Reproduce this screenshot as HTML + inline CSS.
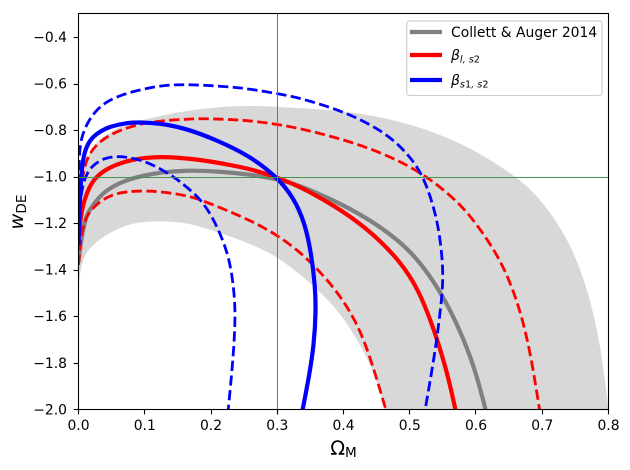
<!DOCTYPE html>
<html>
<head>
<meta charset="utf-8">
<title>Omega_M vs w_DE constraints</title>
<style>
html,body{margin:0;padding:0;background:#fff;}
svg{display:block;}
text{font-family:"DejaVu Sans",sans-serif;fill:#000;}
</style>
</head>
<body>
<svg id="chart" width="630" height="470" viewBox="0 0 630 470" xmlns="http://www.w3.org/2000/svg">
  <defs><clipPath id="plot-clip"><rect x="78.5" y="13.5" width="530" height="396"/></clipPath></defs>
  <g id="marks" clip-path="url(#plot-clip)"></g>
  <g id="axes"></g>
  <text x="343.5" y="455" text-anchor="middle" font-size="19.4">Ω<tspan font-size="13.6" dy="2">M</tspan></text>
  <text transform="translate(23,212) rotate(-90)" text-anchor="middle" font-size="19.4"><tspan font-style="italic">w</tspan><tspan font-size="13.6" dy="3">DE</tspan></text>
  <g>
    <rect x="406.7" y="20.9" width="195.4" height="74.6" rx="3" ry="3" fill="#fff" fill-opacity="0.8" stroke="#ccc" stroke-width="1.1"/>
    <line x1="410" x2="442" y1="32" y2="32" stroke="#808080" stroke-width="4.2"/>
    <text x="451" y="37" font-size="13.9">Collett &amp; Auger 2014</text>
    <line x1="410" x2="442" y1="55" y2="55" stroke="#ff0000" stroke-width="4.2"/>
    <text x="451" y="60" font-size="13.9" font-style="italic">β<tspan font-size="9.7" dy="2.5">l, s</tspan><tspan font-size="9.7" font-style="normal">2</tspan></text>
    <line x1="410" x2="442" y1="80" y2="80" stroke="#0000ff" stroke-width="4.2"/>
    <text x="451" y="85" font-size="13.9" font-style="italic">β<tspan font-size="9.7" dy="2.5">s</tspan><tspan font-size="9.7" font-style="normal">1</tspan><tspan font-size="9.7">, s</tspan><tspan font-size="9.7" font-style="normal">2</tspan></text>
  </g>
</svg>
<script>
var xTicks = [0.0, 0.1, 0.2, 0.3, 0.4, 0.5, 0.6, 0.7, 0.8];
var yTicks = [-0.4, -0.6, -0.8, -1.0, -1.2, -1.4, -1.6, -1.8, -2.0];
var xDomain = [0, 0.8];
var yDomain = [-2.0, -0.3];
var refOmega = 0.3;
var refW = -1.0;

var bandUpperX = [0, 0.0015, 0.0068, 0.0174, 0.0325, 0.0551, 0.0777, 0.0958, 0.1336, 0.1623, 0.2136, 0.2589, 0.3, 0.3595, 0.4098, 0.4596, 0.5105, 0.5608, 0.6106, 0.6614, 0.6865, 0.7117, 0.7369, 0.7505, 0.7671, 0.7872, 0.8];
var bandUpperY = [-1.315, -1.144, -0.972, -0.886, -0.838, -0.795, -0.77, -0.757, -0.733, -0.717, -0.7, -0.695, -0.7, -0.7095, -0.722, -0.746, -0.783, -0.836, -0.907, -1.003, -1.065, -1.151, -1.265, -1.35, -1.473, -1.702, -2.0];
var bandLowerX = [0, 0, 0.0012, 0.0048, 0.0105, 0.0189, 0.04, 0.0717, 0.0969, 0.122, 0.1623, 0.206, 0.2589, 0.3, 0.3343, 0.3595, 0.3846, 0.4072, 0.4325, 0.4501, 0.4626];
var bandLowerY = [-1.51, -1.495, -1.44, -1.375, -1.335, -1.3, -1.251, -1.208, -1.194, -1.191, -1.196, -1.234, -1.287, -1.344, -1.419, -1.483, -1.552, -1.638, -1.758, -1.874, -2.0];

var collettX = [0, 0.0038, 0.0113, 0.0163, 0.0314, 0.0465, 0.0717, 0.0969, 0.122, 0.1623, 0.2136, 0.2589, 0.3, 0.3343, 0.3846, 0.435, 0.4853, 0.5155, 0.5482, 0.5758, 0.5985, 0.6143];
var collettY = [-1.367, -1.272, -1.172, -1.144, -1.086, -1.05, -1.015, -0.996, -0.983, -0.972, -0.978, -0.991, -1.01, -1.038, -1.101, -1.176, -1.277, -1.367, -1.5015, -1.659, -1.825, -2.0];

var betaLS2X = [0, 0.0023, 0.0072, 0.0163, 0.0264, 0.0465, 0.0717, 0.1004, 0.1331, 0.1834, 0.2332, 0.2589, 0.3, 0.3343, 0.3846, 0.435, 0.4853, 0.5155, 0.5407, 0.5582, 0.5688];
var betaLS2Y = [-1.272, -1.195, -1.113, -1.043, -1.0, -0.96, -0.933, -0.918, -0.914, -0.9265, -0.952, -0.967, -1.003, -1.043, -1.122, -1.22, -1.36, -1.495, -1.69, -1.86, -2.0];
var betaLS2UpperX = [0, 0.003, 0.0083, 0.0163, 0.0314, 0.0516, 0.0717, 0.0918, 0.117, 0.1371, 0.1623, 0.1834, 0.2332, 0.2589, 0.3, 0.3343, 0.3846, 0.435, 0.4853, 0.5256, 0.5608, 0.586, 0.611, 0.6362, 0.6563, 0.6714, 0.6841, 0.6958];
var betaLS2UpperY = [-1.208, -1.058, -0.96, -0.9, -0.85, -0.814, -0.7925, -0.774, -0.764, -0.757, -0.754, -0.75, -0.755, -0.76, -0.775, -0.793, -0.829, -0.873, -0.933, -1.0, -1.079, -1.15, -1.244, -1.356, -1.487, -1.624, -1.788, -2.0];
var betaLS2LowerX = [0, 0.0023, 0.0063, 0.0139, 0.0314, 0.0516, 0.0717, 0.1019, 0.1321, 0.1623, 0.1834, 0.2332, 0.2638, 0.3, 0.3343, 0.3595, 0.3846, 0.4049, 0.425, 0.4427, 0.4638];
var betaLS2LowerY = [-1.38, -1.301, -1.215, -1.158, -1.108, -1.076, -1.065, -1.06, -1.0675, -1.081, -1.098, -1.156, -1.195, -1.251, -1.324, -1.394, -1.474, -1.556, -1.659, -1.797, -2.0];

var betaS1S2X = [0, 0.0012, 0.003, 0.0052, 0.0085, 0.0163, 0.0314, 0.0465, 0.0717, 0.0969, 0.122, 0.1623, 0.2086, 0.2589, 0.3, 0.3242, 0.3419, 0.3517, 0.357, 0.3585, 0.3555, 0.3475, 0.3384];
var betaS1S2Y = [-1.294, -1.144, -1.05, -0.959, -0.899, -0.843, -0.807, -0.786, -0.768, -0.767, -0.771, -0.7925, -0.843, -0.9115, -1.003, -1.088, -1.199, -1.337, -1.466, -1.573, -1.724, -1.867, -2.0];
var betaS1S2UpperX = [0, 0.0012, 0.0045, 0.0139, 0.029, 0.0465, 0.0691, 0.0918, 0.1144, 0.1371, 0.1573, 0.1834, 0.2332, 0.2589, 0.3, 0.3343, 0.3846, 0.4199, 0.4601, 0.4853, 0.5054, 0.5205, 0.5331, 0.5431, 0.5487, 0.5502, 0.5491, 0.5457, 0.5381, 0.5233];
var betaS1S2UpperY = [-1.036, -0.893, -0.83, -0.764, -0.7065, -0.671, -0.645, -0.628, -0.614, -0.606, -0.605, -0.606, -0.615, -0.624, -0.643, -0.662, -0.7065, -0.746, -0.808, -0.8685, -0.933, -1.003, -1.101, -1.212, -1.337, -1.423, -1.496, -1.59, -1.758, -2.0];
var betaS1S2LowerX = [0, 0.0023, 0.0088, 0.0214, 0.0389, 0.0592, 0.0818, 0.1045, 0.1271, 0.1472, 0.1612, 0.1834, 0.2015, 0.2181, 0.2287, 0.2347, 0.237, 0.234, 0.2261];
var betaS1S2LowerY = [-1.208, -1.101, -1.002, -0.95, -0.92, -0.9115, -0.92, -0.939, -0.972, -1.008, -1.04, -1.094, -1.169, -1.272, -1.367, -1.487, -1.595, -1.767, -2.0];

var SVGNS = 'http://www.w3.org/2000/svg';
function sx(v) { return 78.5 + (v - xDomain[0]) / (xDomain[1] - xDomain[0]) * 530; }
function sy(v) { return 409.3 - (v - yDomain[0]) / (yDomain[1] - yDomain[0]) * 395.6; }
function pts(xs, ys) {
  var out = [];
  for (var i = 0; i < xs.length; i++) out.push([sx(xs[i]), sy(ys[i])]);
  return out;
}
/* Clamped uniform cubic B-spline through the read points: evens out reading noise. */
function smooth(points, cont) {
  var n = points.length;
  var p = [points[0], points[0]].concat(points).concat([points[n - 1], points[n - 1]]);
  function f(v) { return v.toFixed(2); }
  var d = (cont ? 'L' : 'M') + f(points[0][0]) + ' ' + f(points[0][1]);
  for (var i = 1; i < p.length - 2; i++) {
    var b = p[i], c = p[i + 1], e = p[i + 2];
    d += 'C' + f((2 * b[0] + c[0]) / 3) + ' ' + f((2 * b[1] + c[1]) / 3) + ' ' +
      f((b[0] + 2 * c[0]) / 3) + ' ' + f((b[1] + 2 * c[1]) / 3) + ' ' +
      f((b[0] + 4 * c[0] + e[0]) / 6) + ' ' + f((b[1] + 4 * c[1] + e[1]) / 6);
  }
  return d;
}
var marks = document.getElementById('marks');
var axes = document.getElementById('axes');

var band = document.createElementNS(SVGNS, 'path');


band.setAttribute('d', smooth(pts(bandUpperX, bandUpperY)) + smooth(pts(bandLowerX, bandLowerY).reverse(), true) + 'Z');
band.setAttribute('fill', '#d8d8d8');
marks.appendChild(band);

function addLine(name, xs, ys, color, width, dashed) {
  var el = document.createElementNS(SVGNS, 'path');
  el.setAttribute('d', smooth(pts(xs, ys)));
  el.setAttribute('fill', 'none');
  el.setAttribute('stroke', color);
  el.setAttribute('stroke-width', width);
  if (dashed) el.setAttribute('stroke-dasharray', '10.3 4.4');
  
  
  marks.appendChild(el);
}
addLine('collett-auger-curve', collettX, collettY, '#808080', 4.2, false);
addLine('beta-l-s2-curve', betaLS2X, betaLS2Y, '#ff0000', 4.2, false);
addLine('beta-l-s2-upper-dashed', betaLS2UpperX, betaLS2UpperY, '#ff0000', 2.8, true);
addLine('beta-l-s2-lower-dashed', betaLS2LowerX, betaLS2LowerY, '#ff0000', 2.8, true);
addLine('beta-s1-s2-curve', betaS1S2X, betaS1S2Y, '#0000ff', 4.2, false);
addLine('beta-s1-s2-upper-dashed', betaS1S2UpperX, betaS1S2UpperY, '#0000ff', 2.8, true);
addLine('beta-s1-s2-lower-dashed', betaS1S2LowerX, betaS1S2LowerY, '#0000ff', 2.8, true);

var vRef = document.createElementNS(SVGNS, 'line');


vRef.setAttribute('x1', Math.floor(sx(refOmega)) + 0.5);
vRef.setAttribute('x2', Math.floor(sx(refOmega)) + 0.5);
vRef.setAttribute('y1', sy(yDomain[0]));
vRef.setAttribute('y2', sy(yDomain[1]));
vRef.setAttribute('stroke', '#4a8f4a');
vRef.setAttribute('stroke-width', '1');
marks.appendChild(vRef);

var hRef = document.createElementNS(SVGNS, 'line');


hRef.setAttribute('x1', sx(xDomain[0]));
hRef.setAttribute('x2', sx(xDomain[1]));
hRef.setAttribute('y1', Math.round(sy(refW)) + 0.5);
hRef.setAttribute('y2', Math.round(sy(refW)) + 0.5);
hRef.setAttribute('stroke', '#4a8f4a');
hRef.setAttribute('stroke-width', '1');
marks.appendChild(hRef);

var frame = document.createElementNS(SVGNS, 'rect');


frame.setAttribute('x', 78.5);
frame.setAttribute('y', 13.5);
frame.setAttribute('width', 530);
frame.setAttribute('height', 396);
frame.setAttribute('fill', 'none');
frame.setAttribute('stroke', '#000');
frame.setAttribute('stroke-width', '1.1');
axes.appendChild(frame);

xTicks.forEach(function (v) {
  var t = document.createElementNS(SVGNS, 'line');
  
  
  t.setAttribute('x1', Math.floor(sx(v)) + 0.5);
  t.setAttribute('x2', Math.floor(sx(v)) + 0.5);
  t.setAttribute('y1', 409.5);
  t.setAttribute('y2', 414.4);
  t.setAttribute('stroke', '#000');
  t.setAttribute('stroke-width', '1.1');
  axes.appendChild(t);
  var l = document.createElementNS(SVGNS, 'text');
  
  
  l.setAttribute('x', sx(v));
  l.setAttribute('y', 430);
  l.setAttribute('text-anchor', 'middle');
  l.setAttribute('font-size', '13.9');
  l.textContent = v.toFixed(1);
  axes.appendChild(l);
});
yTicks.forEach(function (v) {
  var t = document.createElementNS(SVGNS, 'line');
  
  
  t.setAttribute('x1', 73.6);
  t.setAttribute('x2', 78.5);
  t.setAttribute('y1', Math.round(sy(v)) + 0.5);
  t.setAttribute('y2', Math.round(sy(v)) + 0.5);
  t.setAttribute('stroke', '#000');
  t.setAttribute('stroke-width', '1.1');
  axes.appendChild(t);
  var l = document.createElementNS(SVGNS, 'text');
  
  
  l.setAttribute('x', 67);
  l.setAttribute('y', sy(v) + 5);
  l.setAttribute('text-anchor', 'end');
  l.setAttribute('font-size', '13.9');
  l.textContent = '\u2212' + Math.abs(v).toFixed(1);
  axes.appendChild(l);
});
</script>
</body>
</html>
